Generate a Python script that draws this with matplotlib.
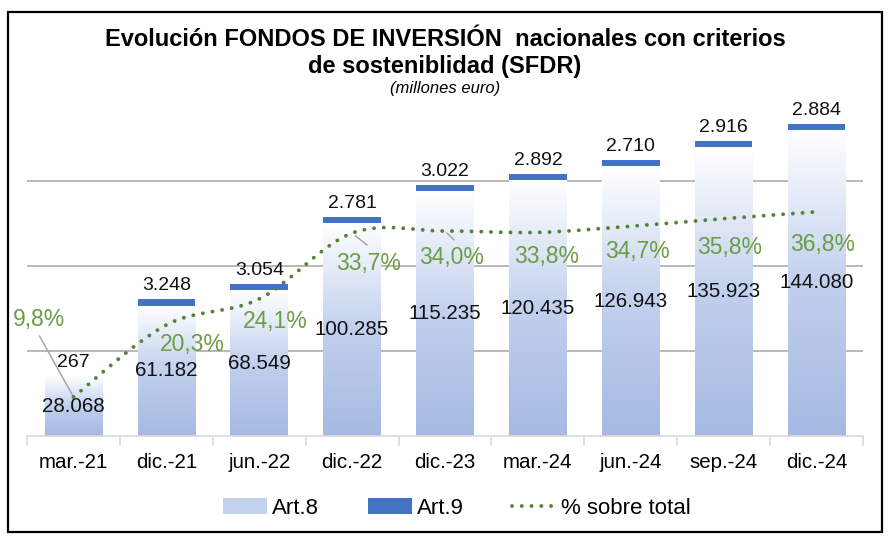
import numpy as np
import matplotlib
matplotlib.use('Agg')
import matplotlib.pyplot as plt
from matplotlib.colors import LinearSegmentedColormap
from matplotlib.patches import Patch, Rectangle, PathPatch
from matplotlib.lines import Line2D
from matplotlib.path import Path

plt.rcParams['font.family'] = ['Liberation Sans', 'DejaVu Sans']

# --- datos ---
periodos = ['mar.-21', 'dic.-21', 'jun.-22', 'dic.-22', 'dic.-23',
            'mar.-24', 'jun.-24', 'sep.-24', 'dic.-24']
art8 = [28068, 61182, 68549, 100285, 115235, 120435, 126943, 135923, 144080]
art9 = [267, 3248, 3054, 2781, 3022, 2892, 2710, 2916, 2884]
pct_total = [9.8, 20.3, 24.1, 33.7, 34.0, 33.8, 34.7, 35.8, 36.8]

# desplazamiento (pixeles) de las etiquetas de % respecto al punto
pct_offsets = [(-34, 77), (26, -20), (16, -23), (16, -30), (7, -26),
               (9, -24), (7, -25), (6, -29), (6, -33)]

AZUL9 = '#4472C4'
VERDE_LINEA = '#548235'
VERDE_TXT = '#6A9E45'
GUIA = '#A6A6A6'

fig = plt.figure(figsize=(8.9, 5.41), dpi=100)
ax = fig.add_axes([27 / 890, 105 / 541, 836 / 890, 340 / 541])

x = np.arange(len(periodos))
ancho = 0.62

# --- barras Art.8 con degradado ---
cmap = LinearSegmentedColormap.from_list(
    'grad', [(0, '#A5B9E2'), (0.5, '#C2D0EE'), (1, '#FFFFFF')])
grad = np.linspace(0, 1, 256).reshape(-1, 1)
barras8 = ax.bar(x, art8, ancho, color='none', edgecolor='none', zorder=2)
for b in barras8:
    im = ax.imshow(grad, cmap=cmap, origin='lower', aspect='auto',
                   extent=[b.get_x(), b.get_x() + b.get_width(), 0, b.get_height()],
                   zorder=2, interpolation='bicubic')
    im.set_clip_path(b)

# --- barras Art.9 ---
ax.bar(x, art9, ancho, bottom=art8, color=AZUL9, zorder=3)

ax.set_xlim(-0.5, len(periodos) - 0.5)
ax.set_ylim(0, 160000)
ax.set_aspect('auto')

# rejilla
ax.set_yticks([40000, 80000, 120000])
ax.yaxis.grid(True, color='#ABABAB', linewidth=1.2, zorder=0)
ax.set_axisbelow(True)
ax.tick_params(axis='y', which='both', left=False, right=False, length=0,
               labelleft=False)
for s in ['top', 'right', 'left']:
    ax.spines[s].set_visible(False)
ax.spines['bottom'].set_color('#D9D9D9')
ax.spines['bottom'].set_linewidth(1.2)

ax.set_xticks(x)
ax.set_xticklabels(periodos, fontsize=14.8)
ax.set_xticks(np.arange(-0.5, len(periodos)), minor=True)
ax.tick_params(axis='x', which='major', length=0, pad=12)
ax.tick_params(axis='x', which='minor', length=7, color='#D9D9D9', width=1.2)

# etiquetas de valores
for xi, a8, a9 in zip(x, art8, art9):
    ax.text(xi, a8 / 2, f'{a8:,}'.replace(',', '.'), ha='center', va='center',
            fontsize=14.8, color='#111111', zorder=5)
    ax.annotate(f'{a9:,}'.replace(',', '.'), (xi, a8 + a9), xytext=(0, 5),
                textcoords='offset pixels', ha='center', va='bottom',
                fontsize=14, color='#111111', zorder=5)

# --- linea % sobre total (eje secundario) ---
ax2 = ax.twinx()
ax2.set_ylim(4.1, 53.7)
ax2.axis('off')

px = x.astype(float)
py = np.array(pct_total)
verts = [(px[0], py[0])]
codes = [Path.MOVETO]
for i in range(len(px) - 1):
    p0 = (px[i - 1], py[i - 1]) if i > 0 else (px[i], py[i])
    p3 = (px[i + 2], py[i + 2]) if i + 2 < len(px) else (px[i + 1], py[i + 1])
    c1 = (px[i] + (px[i + 1] - p0[0]) / 6, py[i] + (py[i + 1] - p0[1]) / 6)
    c2 = (px[i + 1] - (p3[0] - px[i]) / 6, py[i + 1] - (p3[1] - py[i]) / 6)
    verts += [c1, c2, (px[i + 1], py[i + 1])]
    codes += [Path.CURVE4, Path.CURVE4, Path.CURVE4]
curva = PathPatch(Path(verts, codes), facecolor='none', edgecolor=VERDE_LINEA,
                  linewidth=2.8, linestyle=(0, (0.01, 2.5)), capstyle='round',
                  zorder=6)
ax2.add_patch(curva)

for xi, v, (dx, dy) in zip(x, pct_total, pct_offsets):
    etiqueta = f'{v:.1f}%'.replace('.', ',')
    ax2.annotate(etiqueta, (xi, v), xytext=(dx, dy), textcoords='offset pixels',
                 ha='center', va='center', fontsize=16.5, color=VERDE_TXT,
                 zorder=7)

# lineas guia (9,8% ; 33,7% ; 34,0%)
ax2.annotate('', (x[0], pct_total[0]), xytext=(-34, 61), textcoords='offset pixels',
             arrowprops=dict(arrowstyle='-', color=GUIA, lw=1.1, shrinkA=0, shrinkB=1))
ax2.annotate('', (x[3], pct_total[3]), xytext=(15, -12), textcoords='offset pixels',
             arrowprops=dict(arrowstyle='-', color=GUIA, lw=1.1, shrinkA=0, shrinkB=3))
ax2.annotate('', (x[4], pct_total[4]), xytext=(9, -9), textcoords='offset pixels',
             arrowprops=dict(arrowstyle='-', color=GUIA, lw=1.1, shrinkA=0, shrinkB=2))

# --- titulos ---
fig.text(0.5, 1 - 40 / 541, 'Evolución FONDOS DE INVERSIÓN  nacionales con criterios',
         ha='center', va='center', fontsize=17, fontweight='bold')
fig.text(0.5, 1 - 66 / 541, 'de sosteniblidad (SFDR)',
         ha='center', va='center', fontsize=17, fontweight='bold')
fig.text(0.5, 1 - 88 / 541, '(millones euro)', ha='center', va='center',
         fontsize=12, style='italic')

# --- leyenda ---
handles = [Patch(facecolor='#C3D0EC', edgecolor='none'),
           Patch(facecolor=AZUL9, edgecolor='none'),
           Line2D([], [], color=VERDE_LINEA, lw=2.8, linestyle=(0, (0.01, 2.5)),
                  dash_capstyle='round')]
fig.legend(handles, ['Art.8', 'Art.9', '% sobre total'], loc='center',
           bbox_to_anchor=(457 / 890, 1 - 508 / 541), ncol=3, frameon=False,
           fontsize=16, handlelength=2.0, handleheight=0.7,
           handletextpad=0.2, columnspacing=2.2)

# marco
fig.patches.append(Rectangle((8 / 890, 1 - 532 / 541), 874 / 890, 520 / 541,
                             transform=fig.transFigure, fill=False,
                             edgecolor='black', linewidth=1.6))

fig.savefig('out.png', dpi=100)
